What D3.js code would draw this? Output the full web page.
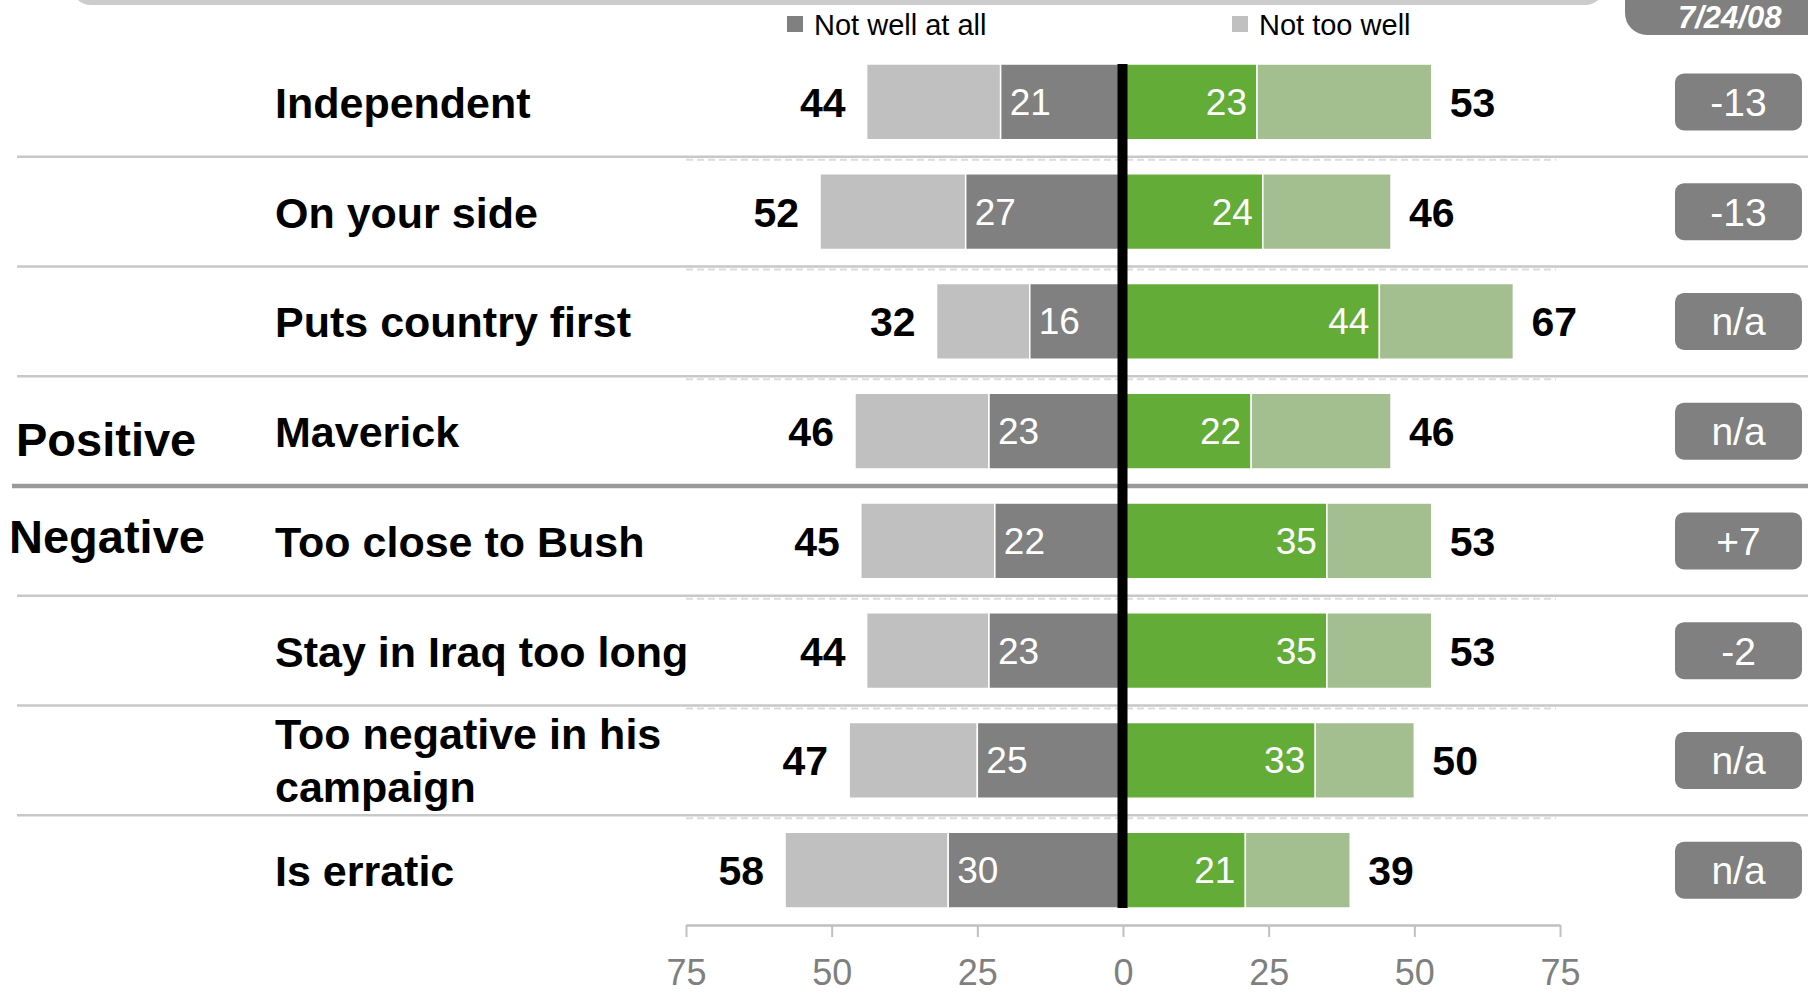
<!DOCTYPE html>
<html><head><meta charset="utf-8">
<script src="https://cdn.jsdelivr.net/npm/d3@7"></script>
<style>
body{margin:0;background:#fff;overflow:hidden;}
svg{display:block;font-family:"Liberation Sans",Arial,Helvetica,sans-serif;}
</style>
</head><body>
<svg id="chart" width="1808" height="993"></svg>
<script>
// ---- data ----
const categories = ["Independent","On your side","Puts country first","Maverick","Too close to Bush","Stay in Iraq too long","Too negative in his campaign","Is erratic"];
const notWellAtAll = [21,27,16,23,22,23,25,30];
const notWellTotal = [44,52,32,46,45,44,47,58];
const veryWell     = [23,24,44,22,35,35,33,21];
const wellTotal    = [53,46,67,46,53,53,50,39];
const changeLabels = ["-13","-13","n/a","n/a","+7","-2","n/a","n/a"];
const axisTicks = [-75,-50,-25,0,25,50,75];
const legendLabels = ["Not well at all","Not too well"];
const groupLabels = ["Positive","Negative"];
const dateLabel = "7/24/08";

// ---- style ----
const C = {lightGray:"#c0c0c0", darkGray:"#808080", darkGreen:"#62ac37", lightGreen:"#a3bf8f", sep:"#c8c8c8", sepThick:"#9a9a9a", axis:"#c0c0c0", tick:"#7f7f7f"};

const svg = d3.select("#chart");
const x = d3.scaleLinear().domain([-75,75]).range([686,1560]);
const y = d3.scaleBand().domain(categories).range([47,925]).paddingInner(0.31).paddingOuter(0.155);
const bw = y.bandwidth();
const cy = c => y(c) + bw/2;

// header decorations
svg.append("rect").attr("x",71).attr("y",-40).attr("width",1534).attr("height",45).attr("rx",20).attr("fill","#cccccc");
svg.append("rect").attr("x",1625).attr("y",-60).attr("width",240).attr("height",95).attr("rx",22).attr("fill","#808080");
svg.append("text").attr("x",1678).attr("y",28).attr("fill","#fff").attr("font-size",31).attr("font-weight","bold").attr("font-style","italic").text(dateLabel);

// legend
const legX = [787,1232], legCol=[C.darkGray,C.lightGray];
legendLabels.forEach((l,i)=>{
  svg.append("rect").attr("x",legX[i]).attr("y",16).attr("width",16).attr("height",16).attr("fill",legCol[i]);
  svg.append("text").attr("x",legX[i]+27).attr("y",35).attr("font-size",29).attr("fill","#000").text(l);
});

// separators
const sepG = svg.append("g");
for(let i=1;i<categories.length;i++){
  const yy = y(categories[i]) - y.step()*y.paddingInner()/2;
  const thick = i===4;
  sepG.append("line").attr("x1",thick?12:17).attr("x2",1808).attr("y1",yy).attr("y2",yy)
    .attr("stroke",thick?C.sepThick:C.sep).attr("stroke-width",thick?4.5:2.5);
  if(!thick){
    sepG.append("line").attr("x1",686).attr("x2",1556).attr("y1",yy+3).attr("y2",yy+3)
      .attr("stroke","#dcdcdc").attr("stroke-width",2).attr("stroke-dasharray","7,4");
  }
}

// group labels
svg.append("text").attr("x",16).attr("y",cy(categories[3])+25).attr("font-size",47).attr("font-weight","bold").text(groupLabels[0]);
svg.append("text").attr("x",9).attr("y",cy(categories[4])+12).attr("font-size",47).attr("font-weight","bold").text(groupLabels[1]);

// row labels (wrapped)
categories.forEach(c=>{
  const t = svg.append("text").attr("x",275).attr("font-size",43).attr("font-weight","bold").attr("fill","#000");
  const words = c.split(" ");
  let lines=[], cur=[];
  const probe = svg.append("text").attr("font-size",43).attr("font-weight","bold");
  words.forEach(w=>{
    const test = cur.concat([w]).join(" ");
    probe.text(test);
    if(probe.node().getComputedTextLength() > 450 && cur.length){ lines.push(cur.join(" ")); cur=[w]; }
    else cur.push(w);
  });
  lines.push(cur.join(" "));
  probe.remove();
  const lh = 53;
  const base = cy(c) + 16 - (lines.length-1)*lh/2 - (lines.length>1?1:0);
  lines.forEach((l,k)=>t.append("tspan").attr("x",275).attr("y",base+k*lh).text(l));
});

// bars
const rows = categories.map((c,i)=>({c, a:notWellAtAll[i], nt:notWellTotal[i], v:veryWell[i], wt:wellTotal[i], ch:changeLabels[i]}));
const segs = [
  {from:d=>-d.nt, to:d=>-d.a, fill:C.lightGray},
  {from:d=>-d.a, to:d=>0, fill:C.darkGray},
  {from:d=>0, to:d=>d.v, fill:C.darkGreen},
  {from:d=>d.v, to:d=>d.wt, fill:C.lightGreen}
];
const barG = svg.append("g");
segs.forEach(s=>{
  barG.selectAll(null).data(rows).join("rect")
    .attr("x",d=>x(Math.min(s.from(d),s.to(d))))
    .attr("width",d=>Math.abs(x(s.to(d))-x(s.from(d))))
    .attr("y",d=>y(d.c)).attr("height",bw)
    .attr("fill",s.fill).attr("stroke","#fff").attr("stroke-width",1.5);
});

// zero line
svg.append("rect").attr("x",x(0)-5.5).attr("width",10).attr("y",y(categories[0])).attr("height",y(categories[categories.length-1])+bw-y(categories[0])).attr("fill","#000");

// inner labels
svg.append("g").selectAll("text").data(rows).join("text")
  .attr("x",d=>x(-d.a)+9).attr("y",d=>cy(d.c)+13).attr("font-size",37).attr("fill","#fff").text(d=>d.a);
svg.append("g").selectAll("text").data(rows).join("text")
  .attr("x",d=>x(d.v)-10).attr("y",d=>cy(d.c)+13).attr("text-anchor","end").attr("font-size",37).attr("fill","#fff").text(d=>d.v);

// totals
svg.append("g").selectAll("text").data(rows).join("text")
  .attr("x",d=>x(-d.nt)-21).attr("y",d=>cy(d.c)+15).attr("text-anchor","end").attr("font-size",41).attr("font-weight","bold").text(d=>d.nt);
svg.append("g").selectAll("text").data(rows).join("text")
  .attr("x",d=>x(d.wt)+18).attr("y",d=>cy(d.c)+15).attr("font-size",41).attr("font-weight","bold").text(d=>d.wt);

// change badges
const bg = svg.append("g").selectAll("g").data(rows).join("g").attr("transform",d=>`translate(1675,${cy(d.c)})`);
bg.append("rect").attr("x",0).attr("y",-28.5).attr("width",127).attr("height",57).attr("rx",9).attr("fill","#808080");
bg.append("text").attr("x",63.5).attr("y",14).attr("text-anchor","middle").attr("font-size",39).attr("fill","#fff").text(d=>d.ch);

// axis
const ax = svg.append("g").attr("transform","translate(0,925)")
  .call(d3.axisBottom(x).tickValues(axisTicks).tickFormat(d=>Math.abs(d)).tickSize(12).tickSizeOuter(0));
ax.select(".domain").attr("stroke",C.axis).attr("stroke-width",2.5);
ax.selectAll(".tick line").attr("stroke",C.axis).attr("stroke-width",2);
ax.selectAll(".tick text").attr("y",60).attr("dy",0).attr("font-size",36).attr("fill",C.tick).attr("font-family","\"Liberation Sans\",Arial,sans-serif");
</script>
</body></html>
